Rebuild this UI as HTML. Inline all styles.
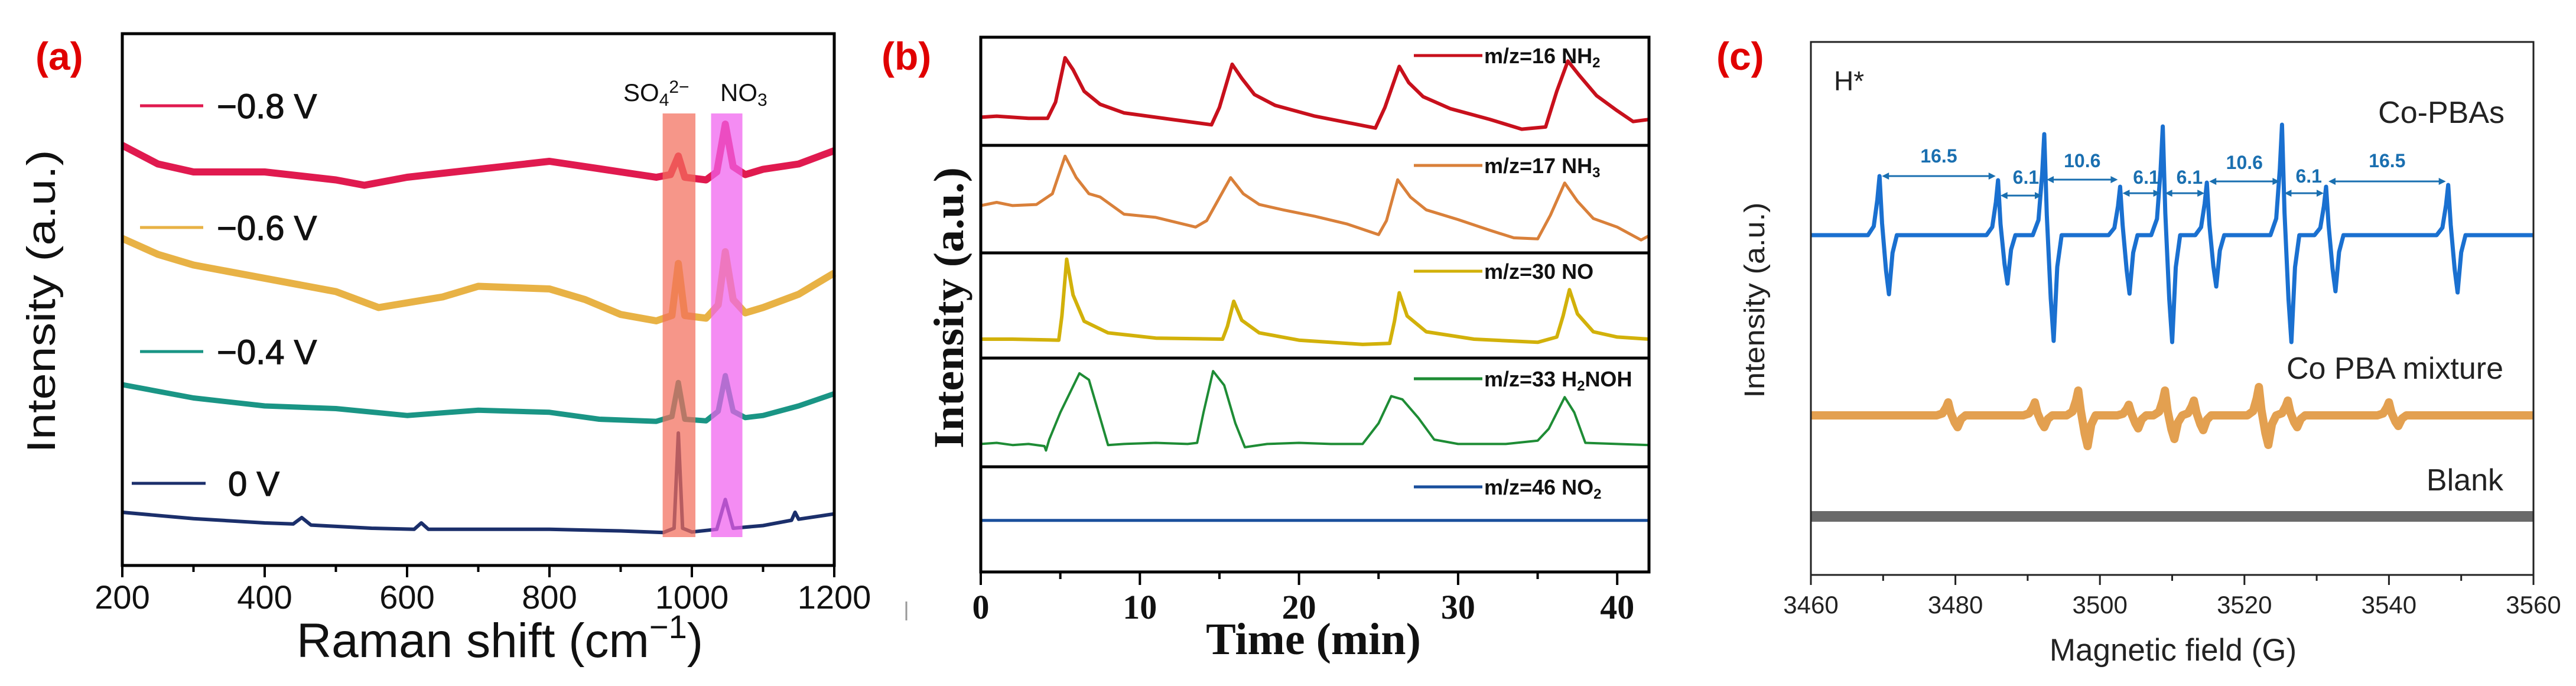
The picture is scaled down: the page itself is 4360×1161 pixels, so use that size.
<!DOCTYPE html>
<html><head><meta charset="utf-8"><style>
html,body{margin:0;padding:0;background:#fff;}
svg{display:block;}
</style></head><body>
<svg id="fig" width="4360" height="1161" viewBox="0 0 4360 1161" xmlns="http://www.w3.org/2000/svg">
<rect x="0" y="0" width="4360" height="1161" fill="#fff"/>
<g id="pa"></g>
<g id="pb"></g>
<g id="pc"></g>
</svg>
<script>
// ---------- Panel (a) data: Raman shift (cm-1) vs intensity (a.u.) ----------
const ramanTicks = [200, 400, 600, 800, 1000, 1200];
const ramanRed = [[200,79],[250,75.5],[300,74],[400,74],[500,72.5],[540,71.5],[600,73],[700,74.5],[800,76],[900,74],[950,73],[970,73.5],[981,77],[990,73],[1020,72.5],[1035,74],[1047,83],[1058,75],[1075,73.5],[1100,74.5],[1150,75.5],[1200,78]];
const ramanYellow = [[200,61.5],[250,58.5],[300,56.5],[400,54],[500,51.5],[560,48.5],[650,50.5],[700,52.5],[800,52],[850,50],[900,47.2],[950,46],[972,47],[981,56.8],[990,47],[1020,46.5],[1037,49],[1047,59],[1058,50],[1075,47.5],[1100,48.5],[1150,51],[1200,55]];
const ramanTeal = [[200,34],[300,31.5],[400,30],[500,29.5],[600,28.2],[700,29.2],[800,28.8],[870,27.5],[950,27.1],[972,28],[981,34.4],[990,27.5],[1020,27.2],[1037,29],[1047,35.7],[1058,29],[1075,27.8],[1100,28.2],[1150,30],[1200,32.3]];
const ramanNavy = [[200,10],[300,8.8],[400,8],[440,7.8],[452,9],[465,7.6],[550,7],[610,6.8],[620,8],[630,6.8],[800,6.8],[900,6.5],[960,6.2],[975,7],[981,24.9],[987,7],[1000,6.3],[1035,6.8],[1047,12.4],[1058,7],[1100,7.5],[1140,8.5],[1145,10],[1150,8.7],[1200,9.7]];
const ramanLabels = ["\u22120.8 V","\u22120.6 V","\u22120.4 V","0 V"];
const so4Band = [959, 1005];
const no3Band = [1027, 1071];

// ---------- Panel (b) data: time (min) vs intensity ----------
const timeTicks = [0, 10, 20, 30, 40];
const msNH2 = [[0,26],[1,27],[3,25],[4.2,25],[4.7,40],[5.3,81],[5.8,70],[6.5,50],[7.5,38],[9,30],[12,24],[14.5,19],[15.0,35],[15.8,75],[16.4,62],[17.2,47],[18.5,37],[21,27],[24.8,16],[25.4,35],[26.3,73],[26.9,58],[27.8,45],[29.5,34],[32,24],[34,15],[35.5,17],[36.2,50],[36.9,78],[37.6,65],[38.7,46],[40,32],[41,22],[42,24]];
const msNH3 = [[0,44],[1,47],[2,44],[3.5,45],[4.5,55],[5.3,90],[6,70],[6.8,55],[7.5,52],[9,36],[11,33],[13.5,24],[14.2,30],[15.7,70],[16.5,55],[17.5,45],[19,40],[21,34],[23,27],[25,17],[25.5,30],[26.2,68],[27,52],[28,40],[30,31],[32,21],[33.5,14],[35,13],[35.8,35],[36.7,65],[37.5,48],[38.5,32],[40,24],[41.5,12],[42,16]];
const msNO = [[0,18],[2,18],[4.9,17],[5.1,40],[5.4,94],[5.8,60],[6.5,35],[8,24],[11,19],[15.2,18],[15.5,30],[15.9,54],[16.4,36],[17.5,24],[20,17],[24,13],[25.7,14],[26,35],[26.3,62],[26.8,40],[28,25],[31,18],[35,15],[36.2,20],[36.6,40],[37,65],[37.5,42],[38.5,25],[40,20],[42,18]];
const msH2NOH = [[0,21],[1,22],[2,20],[3,21],[4,19],[4.1,15],[4.3,25],[5,50],[6.2,86],[6.8,80],[7.5,45],[8,20],[9,21],[11,22],[13,21],[13.6,22],[14.0,50],[14.6,88],[15.3,75],[16,40],[16.6,18],[18,21],[20,22],[22,21],[24,21],[25,40],[25.8,65],[26.5,62],[27.5,45],[28.5,25],[30,21],[33,21],[35,24],[35.7,35],[36.7,64],[37.3,50],[38,22],[40,21],[42,20]];
const msNO2 = [[0,49],[42,49]];

// ---------- Panel (c) data: magnetic field (G) ----------
const fieldTicks = [3460, 3480, 3500, 3520, 3540, 3560];
const eprCenters = [3469.5, 3485.9, 3492.3, 3502.8, 3508.7, 3514.8, 3525.2, 3531.3, 3548.2];
const eprMax = [100, 93, 171, 82, 184, 89, 187, 82, 85];
const eprMin = [100, 82, 179, 99, 181, 87, 181, 95, 97];
const mixCenters = [3479, 3491, 3497, 3504, 3509, 3513, 3522, 3526, 3540];
const mixMax = [22, 22, 42, 18, 42, 25, 48, 25, 22];
const mixMin = [20, 20, 52, 22, 40, 25, 50, 20, 18];
const splitLabels = ["16.5","6.1","10.6","6.1","6.1","10.6","6.1","16.5"];

const NS = "http://www.w3.org/2000/svg";
function mk(tag, attrs, parent){ const e=document.createElementNS(NS,tag); for(const k in attrs) e.setAttribute(k,attrs[k]); parent.appendChild(e); return e; }
function pathFrom(pts, fx, fy){ return pts.map((p,i)=>(i?'L':'M')+fx(p[0]).toFixed(1)+','+fy(p[1]).toFixed(1)).join(''); }
const SANS = '"Liberation Sans", Arial, sans-serif';
const SERIF = '"Liberation Serif", "Times New Roman", serif';

// ================= Panel A =================
(function(){
  const g = document.getElementById('pa');
  const L=207, R=1412, T=57, B=957;
  const xA = w => L + (w-200)*(R-L)/1000;
  const yA = v => B - v*9;
  const lab = mk('text',{x:60,y:118,'font-family':SANS,'font-size':66,'font-weight':'bold',fill:'#e00000'},g);
  lab.textContent='(a)';
  
  
  const series=[[ramanRed,'#e01a4f',12],[ramanYellow,'#e8b245',12],[ramanTeal,'#1a9585',9],[ramanNavy,'#1b2f6b',6]];
  const names=['line-minus-0.8v','line-minus-0.6v','line-minus-0.4v','line-0v'];
  series.forEach((s,i)=>{
    const p = mk('path',{d:pathFrom(s[0],xA,yA),fill:'none',stroke:s[1],'stroke-width':s[2],'stroke-linejoin':'round'},g);
    
    
  });
  const b1 = mk('rect',{x:xA(so4Band[0]),y:192,width:xA(so4Band[1])-xA(so4Band[0]),height:717,fill:'#f26d5b',opacity:0.72},g);
  
  
  const b2 = mk('rect',{x:xA(no3Band[0]),y:192,width:xA(no3Band[1])-xA(no3Band[0]),height:717,fill:'#f060ee',opacity:0.72},g);
  
  
  const t1 = mk('text',{x:1055,y:171,'font-family':SANS,'font-size':42,fill:'#111'},g);
  t1.innerHTML='SO<tspan font-size="30" dy="8">4</tspan><tspan font-size="30" dy="-22">2\u2212</tspan>';
  
  
  const t2 = mk('text',{x:1219,y:171,'font-family':SANS,'font-size':42,fill:'#111'},g);
  t2.innerHTML='NO<tspan font-size="30" dy="8">3</tspan>';
  
  
  const box = mk('rect',{x:L,y:T,width:R-L,height:B-T,fill:'none',stroke:'#000','stroke-width':5},g);
  
  
  for(let w=200; w<=1200; w+=100){
    const maj = (w%200===0);
    mk('line',{x1:xA(w),x2:xA(w),y1:B,y2:B+(maj?20:11),stroke:'#000','stroke-width':4},g);
  }
  ramanTicks.forEach(w=>{
    const t = mk('text',{x:xA(w),y:1030,'text-anchor':'middle','font-family':SANS,'font-size':56,fill:'#111'},g);
    t.textContent=w;
    
    
  });
  const xt = mk('text',{x:846,y:1112,'text-anchor':'middle','font-family':SANS,'font-size':82,fill:'#111'},g);
  xt.innerHTML='Raman shift (cm<tspan font-size="56" dy="-32">\u22121</tspan><tspan dy="32">)</tspan>';
  
  
  const yt = mk('text',{x:0,y:0,transform:'translate(93,510) rotate(-90)','text-anchor':'middle','font-family':SANS,'font-size':68,fill:'#111',textLength:513,lengthAdjust:'spacingAndGlyphs'},g);
  yt.textContent='Intensity (a.u.)';
  
  
  const legY=[179,385,595,818];
  const legC=['#e01a4f','#e8b245','#1a9585','#1b2f6b'];
  legY.forEach((y,i)=>{
    const ln = mk('line',{x1:i==3?223:237,x2:i==3?348:344,y1:y,y2:y,stroke:legC[i],'stroke-width':5},g);
    
    
    const tx = mk('text',{x:i==3?386:367,y:y+21,'font-family':SANS,'font-size':58,fill:'#111',stroke:'#111','stroke-width':1.2},g);
    tx.textContent=ramanLabels[i];
    
    
  });
  mk('line',{x1:1534,x2:1534,y1:1018,y2:1050,stroke:'#999','stroke-width':3},g);
})();

// ================= Panel B =================
(function(){
  const g = document.getElementById('pb');
  const L=1660, R=2791;
  const tops=[63,246,428,606,790], bots=[246,428,606,790,968];
  const xB = t => L + t*26.93;
  const lab = mk('text',{x:1492,y:118,'font-family':SANS,'font-size':66,'font-weight':'bold',fill:'#e00000'},g);
  lab.textContent='(b)';
  
  
  const series=[msNH2,msNH3,msNO,msH2NOH,msNO2];
  const cols=['#c8101c','#d9803a','#d2b10a','#1e8c35','#1a4f9c'];
  const widths=[6,5,6,4,5];
  const names=['line-nh2','line-nh3','line-no','line-h2noh','line-no2'];
  series.forEach((s,i)=>{
    const yB = v => bots[i] - v/100*(bots[i]-tops[i]);
    const p = mk('path',{d:pathFrom(s,xB,yB),fill:'none',stroke:cols[i],'stroke-width':widths[i],'stroke-linejoin':'round'},g);
    
    
  });
  const legs=[['m/z=16 NH','2'],['m/z=17 NH','3'],['m/z=30 NO',''],['m/z=33 H','2','NOH'],['m/z=46 NO','2']];
  const legY=[94,280,459,641,824];
  legY.forEach((y,i)=>{
    const ln = mk('line',{x1:2393,x2:2509,y1:y,y2:y,stroke:cols[i],'stroke-width':5},g);
    
    
    const tx = mk('text',{x:2512,y:y+13,'font-family':SANS,'font-size':36,'font-weight':'bold',fill:'#111'},g);
    let h = legs[i][0];
    if(legs[i][1]) h += '<tspan font-size="24" dy="7">'+legs[i][1]+'</tspan>';
    if(legs[i][2]) h += '<tspan dy="-7">'+legs[i][2]+'</tspan>';
    tx.innerHTML = h;
    
    
  });
  tops.forEach((t,i)=>{
    const r = mk('rect',{x:L,y:t,width:R-L,height:bots[i]-t,fill:'none',stroke:'#000','stroke-width':5},g);
    
    
  });
  for(let t=0;t<=40;t+=5){
    mk('line',{x1:xB(t),x2:xB(t),y1:968,y2:968+(t%10===0?22:12),stroke:'#000','stroke-width':4},g);
  }
  timeTicks.forEach(t=>{
    const tx = mk('text',{x:xB(t),y:1047,'text-anchor':'middle','font-family':SERIF,'font-size':58,'font-weight':'bold',fill:'#111'},g);
    tx.textContent=t;
    
    
  });
  const xt = mk('text',{x:2223,y:1107,'text-anchor':'middle','font-family':SERIF,'font-size':76,'font-weight':'bold',fill:'#111'},g);
  xt.textContent='Time (min)';
  
  
  const yt = mk('text',{x:0,y:0,transform:'translate(1630,521) rotate(-90)','text-anchor':'middle','font-family':SERIF,'font-size':72,'font-weight':'bold',fill:'#111',textLength:476,lengthAdjust:'spacingAndGlyphs'},g);
  yt.textContent='Intensity (a.u.)';
  
  
})();

// ================= Panel C =================
(function(){
  const g = document.getElementById('pc');
  const L=3065, R=4288, T=71, B=973;
  const xC = f => L + (f-3460)*(R-L)/100;
  function eprPts(centers, maxs, mins){
    const pts=[[3460,0]];
    centers.forEach((c,i)=>{
      const A=maxs[i], M=mins[i];
      pts.push([c-1.6,0],[c-0.8,A*0.15],[c-0.3,A*0.6],[c,A],[c+0.35,A*0.2],[c+0.9,-M*0.6],[c+1.3,-M],[c+1.8,-M*0.3],[c+2.4,0]);
    });
    pts.push([3560,0]);
    return pts;
  }
  const lab = mk('text',{x:2905,y:118,'font-family':SANS,'font-size':66,'font-weight':'bold',fill:'#e00000'},g);
  lab.textContent='(c)';
  
  
  const sets=[[eprPts(eprCenters,eprMax,eprMin),398,'#1a70d0',7,'line-co-pbas'],
              [eprPts(mixCenters,mixMax,mixMin),703,'#e3a050',14,'line-co-pba-mixture'],
              [[[3460,0],[3560,0]],874,'#6a6a6a',18,'line-blank']];
  sets.forEach(s=>{
    const base=s[1];
    const p = mk('path',{d:pathFrom(s[0],xC,v=>base-v),fill:'none',stroke:s[2],'stroke-width':s[3],'stroke-linejoin':'round'},g);
    
    
  });
  const arrY=[298,331,304,327,327,307,327,307];
  const labY=[275,311,283,311,311,286,309,283];
  for(let i=0;i<eprCenters.length-1;i++){
    const x1=xC(eprCenters[i])+4, x2=xC(eprCenters[i+1])-4, y=arrY[i];
    const a = mk('g',{},g);
    
    
    mk('line',{x1:x1+8,x2:x2-8,y1:y,y2:y,stroke:'#1a6fb0','stroke-width':3},a);
    mk('path',{d:`M${x1},${y}l12,-6v12z M${x2},${y}l-12,-6v12z`,fill:'#1a6fb0'},a);
    const t = mk('text',{x:(x1+x2)/2+(x2-x1<100?8:0),y:labY[i],'text-anchor':'middle','font-family':SANS,'font-size':32,'font-weight':'bold',fill:'#1a6fb0'},g);
    t.textContent=splitLabels[i];
    
    
  }
  const box = mk('rect',{x:L,y:T,width:R-L,height:B-T,fill:'none',stroke:'#222','stroke-width':3},g);
  
  
  for(let f=3460;f<=3560;f+=10){
    mk('line',{x1:xC(f),x2:xC(f),y1:B,y2:B+(f%20===0?17:10),stroke:'#222','stroke-width':3},g);
  }
  fieldTicks.forEach(f=>{
    const t = mk('text',{x:xC(f),y:1038,'text-anchor':'middle','font-family':SANS,'font-size':42,fill:'#222'},g);
    t.textContent=f;
    
    
  });
  const xt = mk('text',{x:3678,y:1118,'text-anchor':'middle','font-family':SANS,'font-size':53,fill:'#222'},g);
  xt.textContent='Magnetic field (G)';
  
  
  const yt = mk('text',{x:0,y:0,transform:'translate(2986,508) rotate(-90)','text-anchor':'middle','font-family':SANS,'font-size':48,fill:'#222',textLength:331,lengthAdjust:'spacingAndGlyphs'},g);
  yt.textContent='Intensity (a.u.)';
  
  
  const lbls=[['H*',3104,153,'start',46,'radical-label'],['Co-PBAs',4239,208,'end',52,'series-label-co-pbas'],['Co PBA mixture',4237,641,'end',52,'series-label-mixture'],['Blank',4237,830,'end',52,'series-label-blank']];
  lbls.forEach(l=>{
    const t = mk('text',{x:l[1],y:l[2],'text-anchor':l[3],'font-family':SANS,'font-size':l[4],fill:'#222'},g);
    t.textContent=l[0];
    
    
  });
})();
</script>
</body></html>
